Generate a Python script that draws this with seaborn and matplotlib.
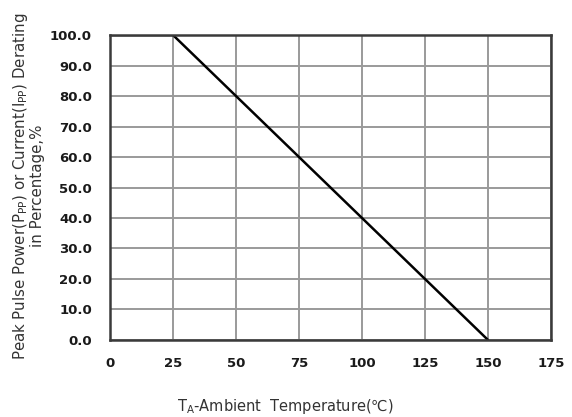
import matplotlib
matplotlib.use("Agg")
import matplotlib.pyplot as plt
import seaborn as sns
import pandas as pd

# Derating curve: flat at 100% up to 25 °C, then linear down to 0% at 150 °C
temperature_c = [0, 25, 150]
derating_pct = [100.0, 100.0, 0.0]

x_ticks = [0, 25, 50, 75, 100, 125, 150, 175]
y_ticks = [0, 10, 20, 30, 40, 50, 60, 70, 80, 90, 100]

sns.set_style("whitegrid")
plt.rcParams["font.family"] = ["DejaVu Sans"]
plt.rcParams["mathtext.default"] = "regular"

df = pd.DataFrame({"T": temperature_c, "D": derating_pct})

fig = plt.figure(figsize=(5.72, 4.17), dpi=100)
ax = fig.add_axes([0.1923, 0.1847, 0.7710, 0.7313])

sns.lineplot(data=df, x="T", y="D", ax=ax, color="black", linewidth=1.8)

ax.set_xlim(0, 175)
ax.set_ylim(0, 100)
ax.set_xticks(x_ticks)
ax.set_yticks(y_ticks)
ax.set_xticklabels([str(t) for t in x_ticks], fontsize=9.5, fontweight="bold", color="#1a1a1a")
ax.set_yticklabels([f"{v:.1f}" for v in y_ticks], fontsize=9.5, fontweight="bold", color="#1a1a1a")
ax.tick_params(axis="x", length=0, pad=12)
ax.tick_params(axis="y", length=0, pad=13)

ax.grid(True, color="#9a9a9a", linewidth=1.4)
for side in ax.spines.values():
    side.set_visible(True)
    side.set_color("#3a3a3a")
    side.set_linewidth(1.8)

ax.set_xlabel("")
ax.set_ylabel("")
fig.text(285 / 572, 1 - 407 / 417, "T$_A$-Ambient  Temperature(℃)",
         fontsize=10.5, color="#333333", ha="center", va="center")
fig.text(28 / 572, 1 - 186 / 417,
         "Peak Pulse Power(P$_{PP}$) or Current(I$_{PP}$) Derating\nin Percentage,%",
         fontsize=10.8, color="#333333", ha="center", va="center", rotation=90,
         linespacing=1.05, multialignment="center")

fig.savefig("out.png", dpi=100, facecolor="white")
